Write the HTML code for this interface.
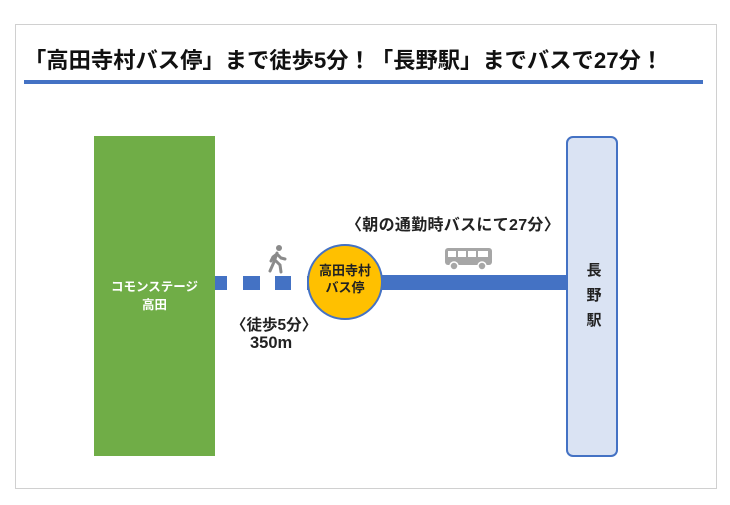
<!DOCTYPE html>
<html><head><meta charset="utf-8"><style>
body{margin:0;width:730px;height:505px;background:#fff;position:relative;overflow:hidden;font-family:"Liberation Sans","Noto Sans CJK JP",sans-serif;}
.a{position:absolute;}
</style></head><body>
<div class="a" style="left:15px;top:24px;width:700px;height:463px;border:1px solid #d0d0d0;"></div>
<div class="a" style="left:24px;top:43px;font-size:22.3px;font-weight:bold;color:#111;white-space:nowrap;letter-spacing:0px">「高田寺村バス停」まで徒歩5分！「長野駅」までバスで27分！</div>
<div class="a" style="left:24px;top:80px;width:679px;height:4px;background:#4472C4"></div>
<div class="a" style="left:94px;top:136px;width:121px;height:320px;background:#70AD47;color:#fff;font-size:12.5px;font-weight:bold;text-align:center;line-height:18px;display:flex;align-items:center;justify-content:center;"><div>コモンステージ<br>高田</div></div>
<div class="a" style="left:566px;top:136px;width:48px;height:317px;background:#DAE3F3;border:2px solid #4472C4;border-radius:7px;"></div>
<div class="a" style="left:584px;top:258px;font-size:15px;font-weight:bold;line-height:25px;color:#222;width:20px;text-align:center">長<br>野<br>駅</div>
<div class="a" style="left:215px;top:276px;width:12px;height:14px;background:#4472C4"></div>
<div class="a" style="left:243px;top:276px;width:17px;height:14px;background:#4472C4"></div>
<div class="a" style="left:275px;top:276px;width:16px;height:14px;background:#4472C4"></div>
<div class="a" style="left:307px;top:276px;width:12px;height:14px;background:#4472C4"></div>
<div class="a" style="left:380px;top:275px;width:186px;height:15px;background:#4472C4"></div>
<div class="a" style="left:307px;top:244px;width:72px;height:72px;border-radius:50%;background:#FFC000;border:2px solid #4472C4;"></div>
<div class="a" style="left:305px;top:262px;width:80px;text-align:center;font-size:13px;font-weight:bold;line-height:17px;color:#222">高田寺村<br>バス停</div>
<svg class="a" style="left:265px;top:244px" width="24" height="30" viewBox="0 0 24 30"><g fill="#8a8a8a" stroke="#8a8a8a"><circle cx="14" cy="4" r="3" stroke="none"/><path d="M12 9 L9 18 L5 27 M11 17 L15 21 L16 28 M12 10 L8 13 L6 17 M12 10 L16 14 L20 15" stroke-width="3" fill="none" stroke-linecap="round"/></g></svg>
<svg class="a" style="left:445px;top:248px" width="48" height="24" viewBox="0 0 48 24"><rect x="0" y="0" width="47" height="17" rx="3" fill="#a6a6a6"/><rect x="3" y="3" width="8" height="6" fill="#fff"/><rect x="13" y="3" width="8" height="6" fill="#fff"/><rect x="23" y="3" width="8" height="6" fill="#fff"/><rect x="33" y="3" width="10" height="6" fill="#fff"/><circle cx="9" cy="18" r="4" fill="#a6a6a6" stroke="#fff" stroke-width="1.5"/><circle cx="37" cy="18" r="4" fill="#a6a6a6" stroke="#fff" stroke-width="1.5"/></svg>
<div class="a" style="left:346px;top:211px;font-size:16px;font-weight:bold;color:#222;white-space:nowrap;letter-spacing:0.3px">〈朝の通勤時バスにて27分〉</div>
<div class="a" style="left:231px;top:313px;font-size:15.5px;font-weight:bold;color:#222;white-space:nowrap">〈徒歩5分〉</div>
<div class="a" style="left:250px;top:334px;font-size:16.5px;font-weight:bold;color:#222;white-space:nowrap">350m</div>
</body></html>
